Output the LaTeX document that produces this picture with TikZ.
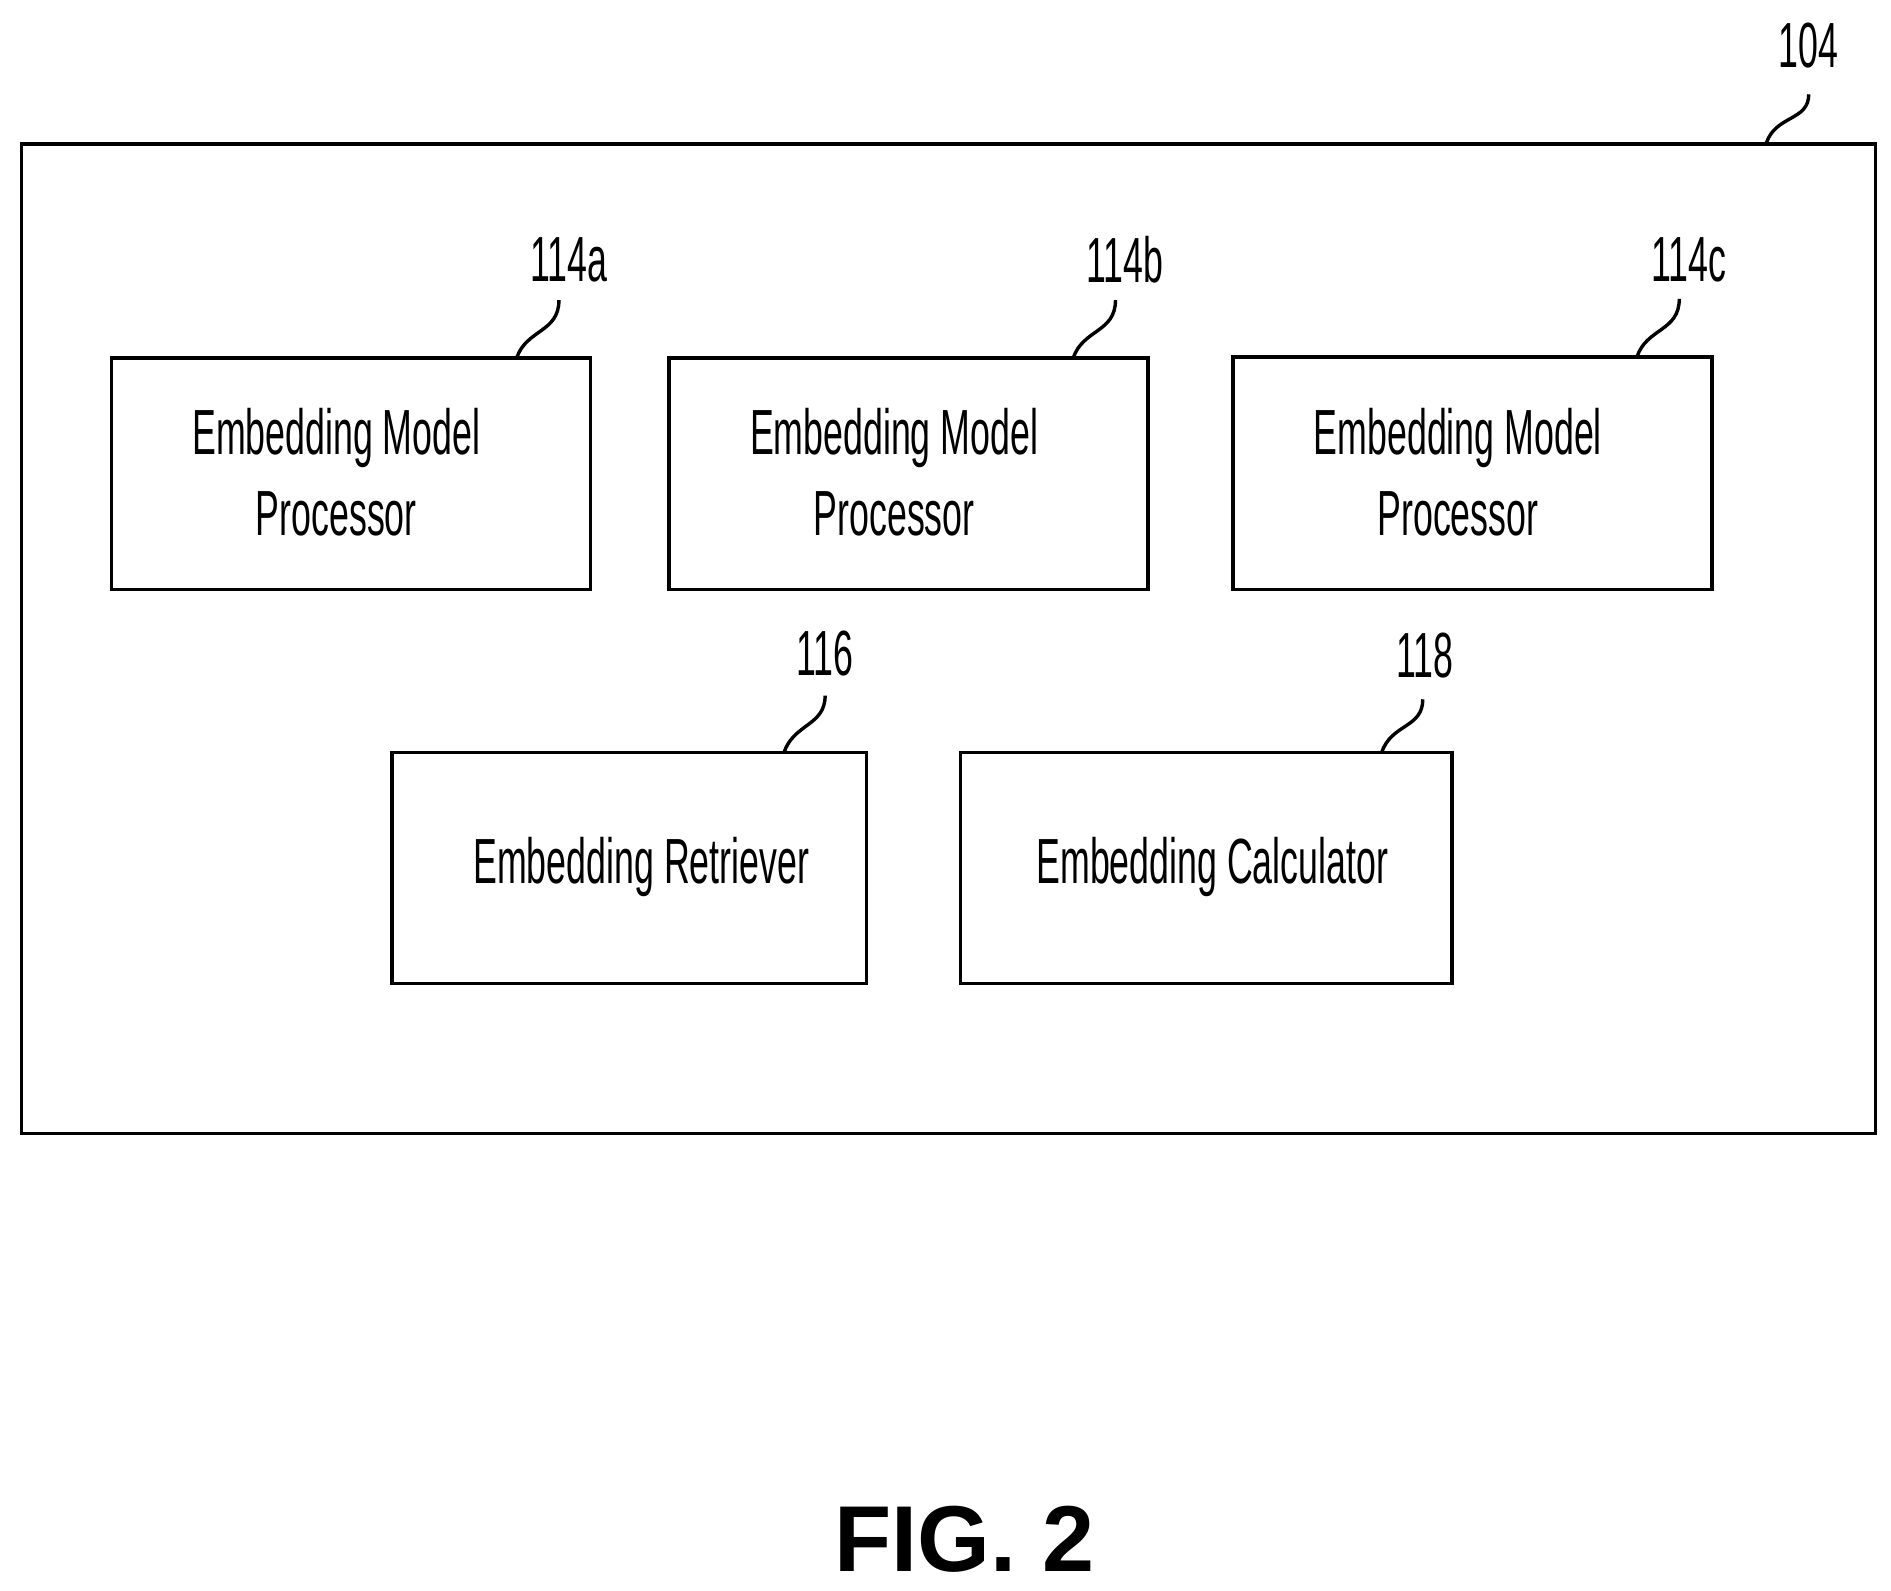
\documentclass[tikz,border=0pt]{standalone}
\usepackage{fontspec}
\setmainfont{Liberation Sans}
\newcommand{\nrw}[1]{\scalebox{0.56}[1]{#1}}
\begin{document}
\begin{tikzpicture}[x=0.01cm,y=-0.01cm,
  box/.style={draw,line width=0.8pt},
  lbl/.style={font=\fontsize{15pt}{18pt}\selectfont,inner sep=0pt},
  txt/.style={font=\fontsize{15pt}{19pt}\selectfont,align=center,inner sep=0pt},
  lead/.style={line width=0.8pt}]
\useasboundingbox (0,0) rectangle (1563,1315);
\draw[box] (18,119) rectangle (1550,937);
\node[lbl] (l104) at (1495,38) {\nrw{104}};
\draw[lead] (1460,118) .. controls (1468,95) and (1495,100) .. (1495,78);

\draw[box] (92,296) rectangle (488,487);
\node[txt] (t1) at (278,390) {\nrw{Embedding Model}\\\nrw{Processor}};
\node[lbl] (l1) at (470,215) {\nrw{114a}};
\draw[lead] (427,296) .. controls (435,272) and (462,275) .. (462,248);

\draw[box] (553,296) rectangle (949,487);
\node[txt] (t2) at (739,390) {\nrw{Embedding Model}\\\nrw{Processor}};
\node[lbl] (l2) at (930,215) {\nrw{114b}};
\draw[lead] (887,296) .. controls (895,272) and (922,275) .. (922,248);

\draw[box] (1019,295) rectangle (1415,487);
\node[txt] (t3) at (1205,390) {\nrw{Embedding Model}\\\nrw{Processor}};
\node[lbl] (l3) at (1396,215) {\nrw{114c}};
\draw[lead] (1353,295) .. controls (1361,271) and (1388,274) .. (1388,247);

\draw[box] (324,622) rectangle (716,813);
\node[txt] (t4) at (530,717) {\nrw{Embedding Retriever}};
\node[lbl] (l4) at (682,540) {\nrw{116}};
\draw[lead] (648,622) .. controls (656,598) and (682,600) .. (682,575);

\draw[box] (794,622) rectangle (1200,813);
\node[txt] (t5) at (1002,717) {\nrw{Embedding Calculator}};
\node[lbl] (l5) at (1178,542) {\nrw{118}};
\draw[lead] (1142,622) .. controls (1150,598) and (1176,602) .. (1176,578);

\node[font=\bfseries\fontsize{22pt}{26pt}\selectfont] (fig) at (797,1272) {FIG. 2};
\end{tikzpicture}
\end{document}
